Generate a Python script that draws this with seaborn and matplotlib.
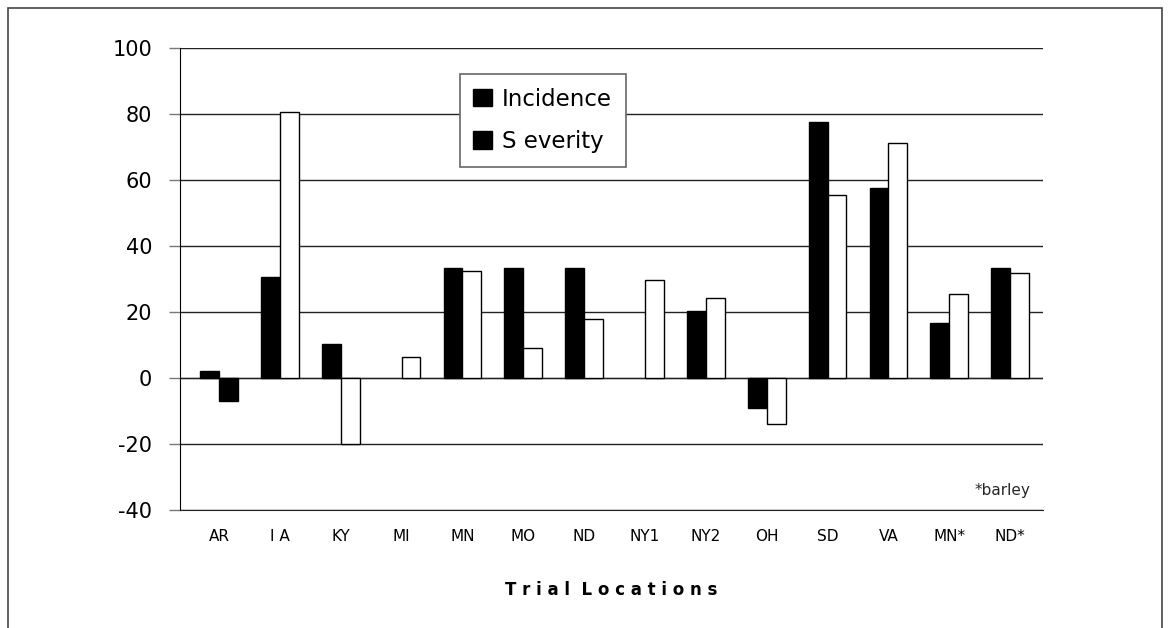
import matplotlib
matplotlib.use("Agg")
import matplotlib.pyplot as plt
import matplotlib.patches as mpatches
import numpy as np
import pandas as pd
import seaborn as sns

locations = ["AR", "I A", "KY", "MI", "MN", "MO", "ND", "NY1", "NY2", "OH", "SD", "VA", "MN*", "ND*"]
incidence = [2, 30.5, 10.4, 0, 33.3, 33.3, 33.3, 0, 20.2, -9, 77.6, 57.6, 16.8, 33.2]
severity = [-7, 80.5, -20, 6.3, 32.5, 9, 18, 29.7, 24.2, -13.8, 55.4, 71.2, 25.6, 31.8]

df = pd.DataFrame({
    "Location": locations * 2,
    "Value": incidence + severity,
    "Measure": ["Incidence"] * len(locations) + ["Severity"] * len(locations),
})

sns.set_style("white")
plt.rcParams["font.family"] = ["DejaVu Sans"]
plt.rcParams["axes.unicode_minus"] = False

fig = plt.figure(figsize=(11.7, 6.28), dpi=100)
ax = fig.add_axes([180 / 1170, 1 - 510 / 628, (1043 - 180) / 1170, (510 - 48) / 628])

sns.barplot(df, x="Location", y="Value", hue="Measure", order=locations,
            palette=["black", "white"], width=0.62, gap=0, edgecolor="black",
            linewidth=1, saturation=1, legend=False, ax=ax)

# severity bars: white, except the negative AR one which is filled
n = len(locations)
for i, p in enumerate(ax.patches[:2 * n]):
    if i >= n:
        j = i - n
        p.set_facecolor("black" if j == 0 else "white")
        p.set_edgecolor("black")
    if p.get_height() == 0:
        p.set_visible(False)

ax.set_ylim(-40, 100)
ax.set_yticks(np.arange(-40, 101, 20))
ax.set_xlim(-0.64, n - 1 + 0.54)
ax.yaxis.grid(True, color="#222222", linewidth=1)
ax.set_axisbelow(True)
for s in ["top", "right"]:
    ax.spines[s].set_visible(False)
ax.spines["left"].set_color("black")
ax.spines["bottom"].set_color("#222222")
ax.axhline(0, color="#777777", linewidth=1, zorder=0.5)
ax.tick_params(axis="y", direction="out", length=8, width=1, color="#777777",
               labelsize=15, pad=12, left=True, labelcolor="black")
ax.tick_params(axis="x", length=0, labelsize=11, pad=14, labelcolor="black")
ax.set_ylabel("")
ax.set_xlabel("T r i a l  L o c a t i o n s", fontsize=12, fontweight="bold",
              labelpad=26, color="black")

ax.text(0.985, 0.026, "*barley", transform=ax.transAxes, ha="right", va="bottom", fontsize=11)

h1 = mpatches.Patch(facecolor="black", edgecolor="black", label="Incidence")
h2 = mpatches.Patch(facecolor="black", edgecolor="black", label="S everity")
leg = ax.legend(handles=[h1, h2], loc="upper left", bbox_to_anchor=(0.324, 0.944),
                borderaxespad=0, fontsize=16.5, frameon=True, fancybox=False,
                framealpha=1, handlelength=0.8, handleheight=0.8, handletextpad=0.45,
                borderpad=0.6, labelspacing=0.85)
leg.get_frame().set_edgecolor("#666666")
leg.get_frame().set_linewidth(1.2)
for t in leg.get_texts():
    t.set_color("black")

border = mpatches.Rectangle((8 / 1170, -0.05), 1154 / 1170, 1.05 - 8 / 628, transform=fig.transFigure,
                            fill=False, edgecolor="#444444", linewidth=1.2)
fig.patches.append(border)

fig.savefig("out.png", dpi=100)
